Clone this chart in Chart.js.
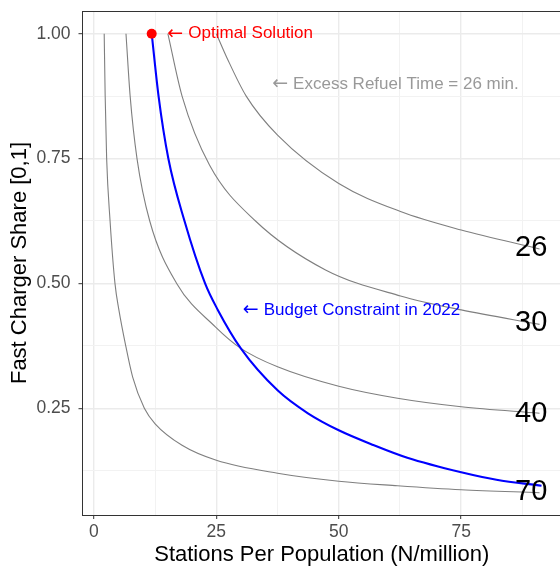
<!DOCTYPE html>
<html>
<head>
<meta charset="utf-8">
<script src="https://cdn.jsdelivr.net/npm/chart.js@4.4.1/dist/chart.umd.min.js"></script>
<style>
  html, body { margin: 0; padding: 0; background: #fff; overflow: hidden; }
  #wrap { width: 566px; height: 568px; }
</style>
</head>
<body>
<div id="wrap"><canvas id="chart" width="566" height="568"></canvas></div>
<script>
const FONT = "'Liberation Sans', Arial, Helvetica, sans-serif";
const ARROW_FONT = "'DejaVu Sans', sans-serif";

// Iso-curves of excess refuel time (minutes)
const curve26X = [25, 27.2, 31.1, 37.5, 50, 62.6, 75, 91];
const curve26Y = [1.0, 0.951, 0.875, 0.797, 0.70, 0.644, 0.607, 0.569];

const curve30X = [15.1, 18, 23.6, 33, 47.3, 62.6, 75, 91];
const curve30Y = [1.0, 0.875, 0.737, 0.625, 0.527, 0.475, 0.447, 0.418];

const curve40X = [6.55, 7.4, 8.8, 11.4, 16.9, 24.8, 30, 37.5, 50, 62, 75, 91];
const curve40Y = [1.0, 0.875, 0.75, 0.625, 0.5, 0.413, 0.37, 0.333, 0.294, 0.27, 0.253, 0.24];

const curve70X = [2.1, 2.3, 2.6, 3.3, 4.3, 5.1, 6.5, 7.9, 10.3, 12.5, 18, 25, 37.5, 50, 62, 75, 91];
const curve70Y = [1.0, 0.875, 0.75, 0.625, 0.5, 0.447, 0.375, 0.313, 0.25, 0.219, 0.176, 0.146, 0.12, 0.104, 0.095, 0.087, 0.081];

// Budget constraint in 2022
const budgetX = [11.8, 13.2, 15.2, 18.5, 22.7, 25.3, 30, 37.5, 43.7, 50, 57.2, 64, 75, 82.2, 91.4];
const budgetY = [1.0, 0.875, 0.75, 0.625, 0.5, 0.447, 0.37, 0.286, 0.24, 0.206, 0.176, 0.151, 0.122, 0.107, 0.095];

// Optimal solution
const optimalX = [11.8];
const optimalY = [1.0];

// Curve end labels
const curveLabels = ['26', '30', '40', '70'];
const curveLabelX = [89.3, 89.3, 89.3, 89.3];
const curveLabelY = [0.570, 0.4215, 0.238, 0.0816];

// Annotations (arrow + text)
const noteArrow = '\u2190';
const noteText = ['Optimal Solution', 'Excess Refuel Time = 26 min.', 'Budget Constraint in 2022'];
const noteX = [15.0, 36.4, 30.4];
const noteY = [1.0, 0.899, 0.447];
const noteColor = ['#FF0000', '#999999', '#0000FF'];

// Axis ticks
const xMajor = [0, 25, 50, 75];
const xMinor = [12.5, 37.5, 62.5, 87.5];
const yMajor = [0.25, 0.5, 0.75, 1.0];
const yMinor = [0.125, 0.375, 0.625, 0.875];

const toPoints = (xs, ys) => xs.map((x, i) => ({ x, y: ys[i] }));

function greyCurve(xs, ys) {
  return {
    data: toPoints(xs, ys),
    borderColor: '#7F7F7F',
    borderWidth: 1.1,
    pointRadius: 0,
    cubicInterpolationMode: 'monotone',
    order: 3
  };
}

// panel border like ggplot theme_bw
const panelBorder = {
  id: 'panelBorder',
  afterDatasetsDraw(chart) {
    const { ctx, chartArea: a } = chart;
    ctx.save();
    ctx.strokeStyle = '#333333';
    ctx.lineWidth = 1;
    const l = Math.floor(a.left) + 0.5, t = Math.floor(a.top) + 0.5;
    const b = Math.floor(a.bottom) + 0.5, r = Math.floor(a.right) + 0.5;
    ctx.strokeRect(l, t, r - l, b - t);
    ctx.restore();
  }
};

const textLayer = {
  id: 'textLayer',
  afterDatasetsDraw(chart) {
    const { ctx } = chart;
    const xs = chart.scales.x, ys = chart.scales.y;
    ctx.save();
    ctx.textBaseline = 'middle';
    ctx.font = '29px ' + FONT;
    ctx.fillStyle = '#000000';
    ctx.textAlign = 'center';
    curveLabels.forEach((t, i) => {
      ctx.fillText(t, xs.getPixelForValue(curveLabelX[i]), ys.getPixelForValue(curveLabelY[i]));
    });
    ctx.textAlign = 'left';
    noteText.forEach((t, i) => {
      const px = xs.getPixelForValue(noteX[i]);
      const py = ys.getPixelForValue(noteY[i]);
      ctx.fillStyle = noteColor[i];
      ctx.font = '19px ' + ARROW_FONT;
      ctx.fillText(noteArrow, px, py);
      const w = ctx.measureText(noteArrow).width;
      ctx.font = '17px ' + FONT;
      ctx.fillText(t, px + w + 5, py);
    });
    ctx.restore();
  }
};

const ctx = document.getElementById('chart').getContext('2d');
const chart = new Chart(ctx, {
  type: 'line',
  data: {
    datasets: [
      {
        data: toPoints(optimalX, optimalY),
        showLine: false,
        pointRadius: 5,
        pointBackgroundColor: '#FF0000',
        pointBorderColor: '#FF0000',
        pointBorderWidth: 0,
        order: 1
      },
      {
        data: toPoints(budgetX, budgetY),
        borderColor: '#0000FF',
        borderWidth: 2.1,
        pointRadius: 0,
        cubicInterpolationMode: 'monotone',
        order: 2
      },
      greyCurve(curve26X, curve26Y),
      greyCurve(curve30X, curve30Y),
      greyCurve(curve40X, curve40Y),
      greyCurve(curve70X, curve70Y)
    ]
  },
  options: {
    responsive: false,
    animation: false,
    layout: { padding: { top: 11, right: 1, bottom: 0, left: 0 } },
    plugins: {
      legend: { display: false },
      tooltip: { enabled: false }
    },
    scales: {
      x: {
        type: 'linear',
        min: -2.33,
        max: 95.38,
        afterBuildTicks: axis => {
          axis.ticks = [...xMajor, ...xMinor].sort((a, b) => a - b).map(v => ({ value: v }));
        },
        afterFit: scale => {
          scale.height = 53;
          scale.paddingLeft = 0;
          scale.paddingRight = 0;
        },
        border: { display: false },
        grid: {
          color: c => xMajor.includes(c.tick.value) ? '#EBEBEB' : '#F2F2F2',
          lineWidth: c => xMajor.includes(c.tick.value) ? 1.4 : 1,
          tickColor: c => xMajor.includes(c.tick.value) ? '#333333' : 'rgba(0,0,0,0)',
          tickLength: 4,
          tickWidth: 1
        },
        ticks: {
          autoSkip: false,
          maxRotation: 0,
          padding: 3,
          color: '#4D4D4D',
          font: { family: FONT, size: 17.5 },
          callback: v => xMajor.includes(v) ? String(v) : ''
        },
        title: {
          display: true,
          text: 'Stations Per Population (N/million)',
          color: '#000000',
          font: { family: FONT, size: 22 },
          padding: { top: 0, bottom: 0 }
        }
      },
      y: {
        type: 'linear',
        min: 0.0364,
        max: 1.0454,
        afterBuildTicks: axis => {
          axis.ticks = [...yMajor, ...yMinor].sort((a, b) => a - b).map(v => ({ value: v }));
        },
        afterFit: scale => {
          scale.width = 82.5;
          scale.paddingTop = 0;
          scale.paddingBottom = 0;
        },
        border: { display: false },
        grid: {
          color: c => yMajor.includes(c.tick.value) ? '#EBEBEB' : '#F2F2F2',
          lineWidth: c => yMajor.includes(c.tick.value) ? 1.4 : 1,
          tickColor: c => yMajor.includes(c.tick.value) ? '#333333' : 'rgba(0,0,0,0)',
          tickLength: 4,
          tickWidth: 1
        },
        ticks: {
          autoSkip: false,
          padding: 8,
          color: '#4D4D4D',
          font: { family: FONT, size: 17.5 },
          callback: v => yMajor.includes(v) ? v.toFixed(2) : ''
        },
        title: {
          display: true,
          text: 'Fast Charger Share [0,1]',
          color: '#000000',
          font: { family: FONT, size: 22 },
          padding: { top: 6.4, bottom: 0 }
        }
      }
    }
  },
  plugins: [panelBorder, textLayer]
});
</script>
</body>
</html>
